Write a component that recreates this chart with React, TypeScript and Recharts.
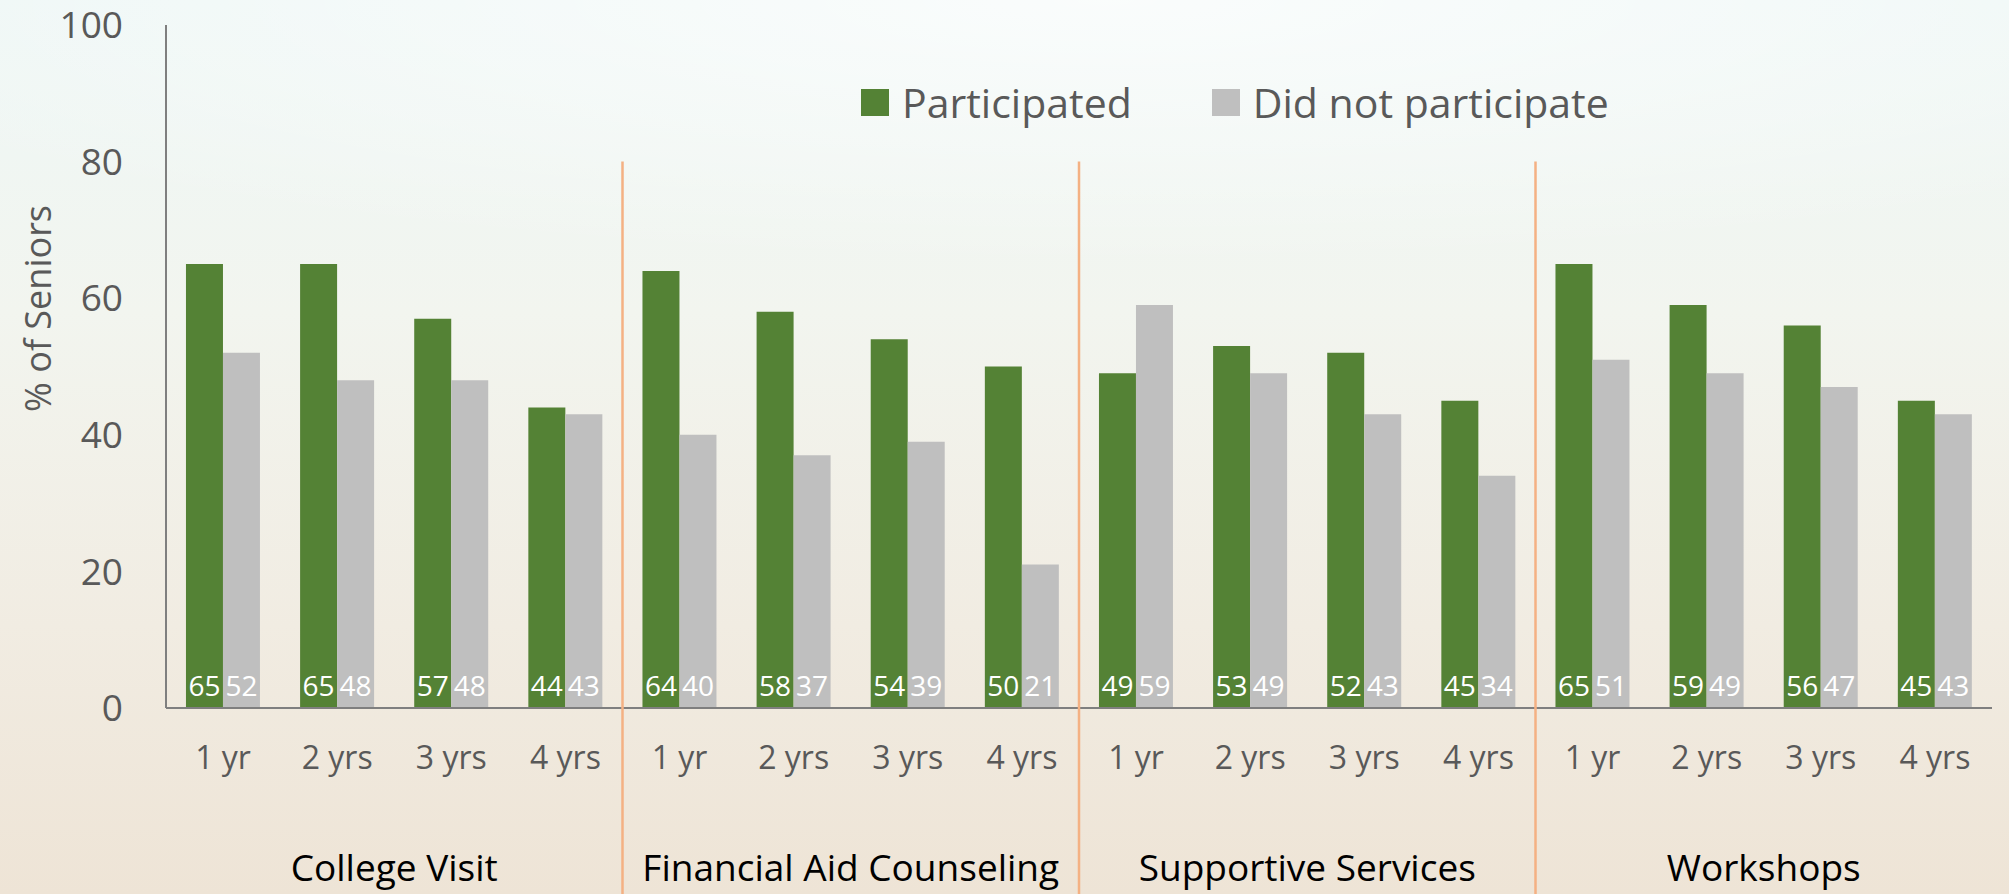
import { BarChart, Bar, XAxis, YAxis, Legend, LabelList } from 'recharts';

const groups = ['College Visit', 'Financial Aid Counseling', 'Supportive Services', 'Workshops'];
const years = ['1 yr', '2 yrs', '3 yrs', '4 yrs'];
const participated = [65, 65, 57, 44, 64, 58, 54, 50, 49, 53, 52, 45, 65, 59, 56, 45];
const notParticipated = [52, 48, 48, 43, 40, 37, 39, 21, 59, 49, 43, 34, 51, 49, 47, 43];
const yTicks = [0, 20, 40, 60, 80, 100];

const data = participated.map((p, i) => ({
  id: i,
  year: years[i % 4],
  group: groups[Math.floor(i / 4)],
  Participated: p,
  'Did not participate': notParticipated[i],
}));

const W = 2009;
const H = 894;
const margin = { top: 25, right: 17, left: 0, bottom: 0 };
const Y_W = 166;
const X_H = 186;
const plotW = W - Y_W - margin.right;
const plotH = H - margin.top - margin.bottom - X_H;
const band = plotW / data.length;

const FONT = '"Open Sans", sans-serif';

const XTick = (props: any) => {
  const { x, y, payload } = props;
  const i = Number(payload.value);
  const row = data[i];
  return (
    <g>
      <text x={x} y={y + 50} dy="0.35em" textAnchor="middle" fill="#595959" fontSize={32} fontFamily={FONT}>
        {row.year}
      </text>
      {i % 4 === 1 && (
        <text x={x + band / 2} y={y + 160} dy="0.35em" textAnchor="middle" fill="#000" fontSize={37} fontFamily={FONT}>
          {row.group}
        </text>
      )}
      {i % 4 === 0 && i > 0 && (
        <line x1={x - band / 2} x2={x - band / 2} y1={y - plotH * 0.8} y2={y + X_H} stroke="#F4B183" strokeWidth={2.5} />
      )}
    </g>
  );
};

const LegendBox = () => (
  <div style={{ display: 'flex', alignItems: 'center', fontFamily: FONT, fontSize: 41, color: '#595959', whiteSpace: 'nowrap' }}>
    <span style={{ width: 28, height: 27, background: '#548235', display: 'inline-block', marginRight: 13 }} />
    <span style={{ marginRight: 80 }}>Participated</span>
    <span style={{ width: 28, height: 27, background: '#BFBFBF', display: 'inline-block', marginRight: 13 }} />
    <span>Did not participate</span>
  </div>
);

const YTitle = (props: any) => {
  const { viewBox } = props;
  const cx = 38;
  const cy = viewBox.y + viewBox.height * 0.415;
  return (
    <text x={cx} y={cy} transform={`rotate(-90, ${cx}, ${cy})`} textAnchor="middle" dominantBaseline="central" fill="#595959" fontSize={36} fontFamily={FONT}>
      % of Seniors
    </text>
  );
};

export default function App() {
  return (
    <div
      style={{
        position: 'absolute',
        top: 0,
        left: 0,
        width: W,
        height: H,
        background:
          'radial-gradient(ellipse 70% 30% at 55% 0%, rgba(255,255,255,0.7), rgba(255,255,255,0) 100%), linear-gradient(180deg, #eef7f6 0%, #f2f5ef 35%, #f1ece2 70%, #eee4d6 100%)',
      }}
    >
      <BarChart width={W} height={H} data={data} margin={margin} barCategoryGap="17.5%" barGap={0}>
        <XAxis
          dataKey="id"
          height={X_H}
          interval={0}
          tickLine={false}
          tickSize={0}
          tickMargin={0}
          axisLine={{ stroke: '#7F7F7F', strokeWidth: 2 }}
          tick={<XTick />}
        />
        <YAxis
          width={Y_W}
          domain={[0, 100]}
          ticks={yTicks}
          tickLine={false}
          tickSize={0}
          tickMargin={43}
          axisLine={{ stroke: '#7F7F7F', strokeWidth: 2 }}
          tick={{ fill: '#595959', fontSize: 37, fontFamily: FONT }}
          label={<YTitle />}
        />
        <Legend
          verticalAlign="middle"
          align="center"
          content={<LegendBox />}
          wrapperStyle={{ top: 74, left: 861, width: 'auto' }}
        />
        <Bar dataKey="Participated" fill="#548235" isAnimationActive={false}>
          <LabelList dataKey="Participated" position="insideBottom" offset={12} fill="#fff" fontSize={28} fontFamily={FONT} />
        </Bar>
        <Bar dataKey="Did not participate" fill="#BFBFBF" isAnimationActive={false}>
          <LabelList dataKey="Did not participate" position="insideBottom" offset={12} fill="#fff" fontSize={28} fontFamily={FONT} />
        </Bar>
      </BarChart>
    </div>
  );
}
